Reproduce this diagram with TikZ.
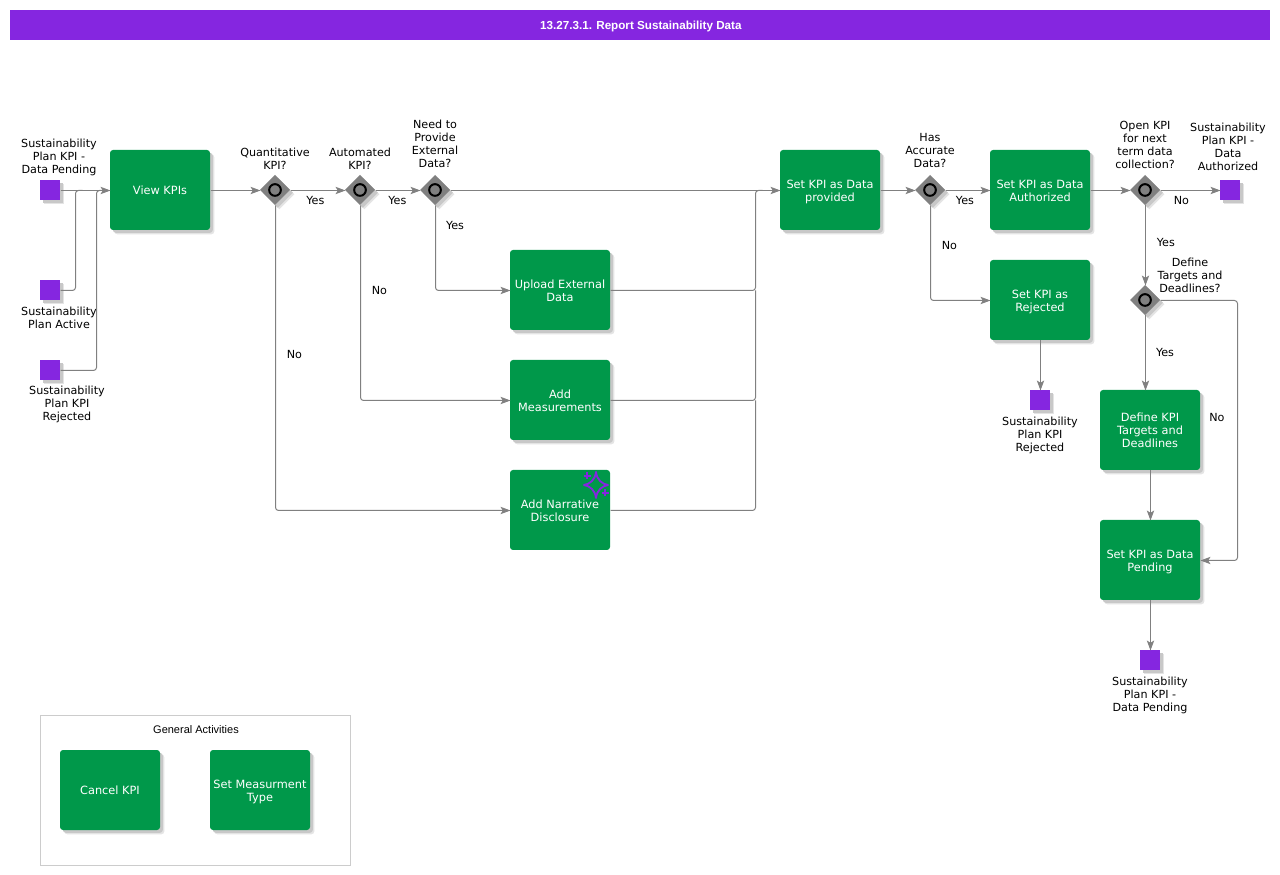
\documentclass[tikz,border=0pt]{standalone}
\usepackage{fontspec}
\setmainfont{DejaVu Sans}
\newfontfamily\arialfont{Liberation Sans}
\usetikzlibrary{positioning,shadows,shapes.geometric,arrows.meta}
\definecolor{actgreen}{HTML}{00984A}
\definecolor{evpurple}{HTML}{8526E0}
\definecolor{flowgray}{HTML}{808080}
\definecolor{framegray}{HTML}{CCCCCC}
\definecolor{shadowgray}{HTML}{C8C8C8}
\definecolor{shadowpale}{HTML}{E4E4E4}
\tikzset{>={Stealth[length=6pt,width=4.4pt,inset=1.4pt]}}
\tikzset{
  softshadow/.style={drop shadow={shadow xshift=2.6pt,shadow yshift=-2.6pt,fill=shadowpale,opacity=1},
    drop shadow={shadow xshift=1.7pt,shadow yshift=-1.7pt,fill=shadowgray,opacity=1}},
  plainact/.style={fill=actgreen,rounded corners=1.8pt,minimum width=60pt,minimum height=48pt,
    inner sep=0pt,outer sep=0pt,align=center,text=white,font=\fontsize{6.8}{7.8}\selectfont},
  act/.style={plainact,softshadow},
  lowtxt/.style={text height=14pt,text depth=0pt},
  ev/.style={fill=evpurple,minimum size=12pt,inner sep=0pt,outer sep=0pt,softshadow},
  gate/.style={diamond,fill=flowgray,minimum size=18pt,inner sep=0pt,outer sep=0pt,softshadow,
    path picture={\draw[black,line width=1.2pt] (path picture bounding box.center) circle (3.5pt);}},
  captxt/.style={align=center,inner sep=0pt,font=\fontsize{6.7}{7.8}\selectfont},
  lab/.style={inner sep=1.5pt,text=black,font=\fontsize{6.7}{7.8}\selectfont},
  flow/.style={flowgray,line width=.6pt,rounded corners=1.8pt,transform canvas={xshift=.3pt,yshift=-.3pt}}
}

\begin{document}
\begin{tikzpicture}[x=0.6pt,y=-0.6pt]
    \useasboundingbox (0,0) rectangle (1280,875);
    % title bar
    \node[fill=evpurple,minimum width=756pt,minimum height=18pt,inner sep=0pt,text=white,
      font=\arialfont\bfseries\fontsize{7}{8}\selectfont,text height=5.6pt,text depth=0pt] (title) at (640,25) {\hspace{1pt}13.27.3.1. Report Sustainability Data};

    % set up the events
    \node[ev] (pendA) at (50,190) {};
    \node[ev] (activeA) at (50,290) {};
    \node[ev] (rejA) at (50,370) {};
    \node[ev] (authZ) at (1230,190) {};
    \node[ev] (rejZ) at (1040,400) {};
    \node[ev] (pendZ) at (1150,660) {};

    % set up the activities
    \node[act] (view) at (160,190) {View KPIs};
    \node[act,lowtxt] (upload) at (560,290) {Upload External\\Data};
    \node[act,lowtxt,below=18pt of upload] (measure) {Add\\Measurements};
    \node[plainact,lowtxt,below=18pt of measure] (narr) {Add Narrative\\Disclosure};
    \node[act,lowtxt] (given) at (830,190) {Set KPI as Data\\provided};
    \node[act,lowtxt] (auth) at (1040,190) {Set KPI as Data\\Authorized};
    \node[act,lowtxt] (rej) at (1040,300) {Set KPI as\\Rejected};
    \node[act] (targets) at (1150,430) {Define KPI\\Targets and\\Deadlines};
    \node[act,lowtxt,below=30pt of targets] (pend) {Set KPI as Data\\Pending};

    % set up the gateways
    \node[gate] (gQuant) at (275,190) {};
    \node[gate] (gAuto) at (360,190) {};
    \node[gate] (gExt) at (435,190) {};
    \node[gate] (gAcc) at (930,190) {};
    \node[gate] (gOpen) at (1145,190) {};
    \node[gate] (gDef) at (1145,300) {};

    % junctions where the lines meet
    \coordinate (jActive) at (75,190);
    \coordinate (jActiveEnd) at (82,190);
    \coordinate (jRej) at (96,190);
    \coordinate (jRejEnd) at (103,190);
    \coordinate (jMerge) at (755,190);
    \coordinate (jMergeEnd) at (762,190);
    \coordinate (jNo) at (1237,300);

    % captions
    \node[captxt,above=2.4pt of pendA,xshift=5.4pt] (cPendA) {Sustainability\\Plan KPI -\\Data Pending};
    \node[captxt,below=3.8pt of activeA,xshift=5.4pt] (cActiveA) {Sustainability\\Plan Active};
    \node[captxt,below=3.5pt of rejA,xshift=10.2pt] (cRejA) {Sustainability\\Plan KPI\\Rejected};
    \node[captxt,above=3pt of gQuant] (cQuant) {Quantitative\\KPI?};
    \node[captxt,above=3pt of gAuto] (cAuto) {Automated\\KPI?};
    \node[captxt,above=4.2pt of gExt] (cExt) {Need to\\Provide\\External\\Data?};
    \node[captxt,above=4.2pt of gAcc] (cAcc) {Has\\Accurate\\Data?};
    \node[captxt,above=3.8pt of gOpen] (cOpen) {Open KPI\\for next\\term data\\collection?};
    \node[captxt,above=5.7pt of authZ,xshift=-1.2pt] (cAuth) {Sustainability\\Plan KPI -\\Data\\Authorized};
    \node[captxt,above=-4.8pt of gDef,xshift=27pt] (cDef) {Define\\Targets and\\Deadlines?};
    \node[captxt,below=4.1pt of rejZ] (cRejZ) {Sustainability\\Plan KPI\\Rejected};
    \node[captxt,below=4.1pt of pendZ] (cPendZ) {Sustainability\\Plan KPI -\\Data Pending};

    % draw arrows and text between them
    \draw[flow,->] (pendA)--(view);
    \draw[flow] (activeA)--(jActive |- activeA)--(jActive)--(jActiveEnd);
    \draw[flow] (rejA)--(jRej |- rejA)--(jRej)--(jRejEnd);
    \draw[flow,->] (view)--(gQuant);
    \draw[flow,->] (gQuant)--(gAuto) node [midway,below=1.8pt,lab,xshift=-1.6pt] {Yes};
    \draw[flow,->] (gAuto)--(gExt) node [midway,below=1.8pt,lab,xshift=-.4pt] {Yes};
    \draw[flow,->] (gExt)--(given);
    \draw[flow,->] (gExt)--(gExt |- upload) node [pos=.24,right,lab,xshift=4.5pt] {Yes} --(upload);
    \draw[flow,->] (gAuto)--(gAuto |- measure) node [pos=.435,right,lab,xshift=5pt] {No} --(measure);
    \draw[flow,->] (gQuant)--(gQuant |- narr) node [pos=.49,right,lab,xshift=5pt] {No} --(narr);
    \draw[flow] (upload)--(jMerge |- upload)--(jMerge)--(jMergeEnd);
    \draw[flow] (measure)--(jMerge |- measure)--(jMerge |- upload);
    \draw[flow] (narr)--(jMerge |- narr)--(jMerge |- measure);
    \draw[flow,->] (given)--(gAcc);
    \draw[flow,->] (gAcc)--(auth) node [midway,below=1.8pt,lab,xshift=-1.8pt] {Yes};
    \draw[flow,->] (gAcc)--(gAcc |- rej) node [pos=.42,right,lab,xshift=5pt] {No} --(rej);
    \draw[flow,->] (rej)--(rejZ);
    \draw[flow,->] (auth)--(gOpen);
    \draw[flow,->] (gOpen)--(authZ) node [midway,below=1.8pt,lab,xshift=-5.5pt] {No};
    \draw[flow,->] (gOpen)--(gDef) node [pos=.46,right,lab,xshift=5pt] {Yes};
    \draw[flow,->] (gDef)--(gDef |- targets.north) node [pos=.49,right,lab,xshift=4.5pt] {Yes};
    \draw[flow,->] (gDef)--(jNo)--(jNo |- pend) node [pos=.45,left,lab,xshift=-6pt] {No} --(pend);
    \draw[flow,->] (targets)--(pend);
    \draw[flow,->] (pend)--(pendZ);

    % spark icon on the narrative box
    \draw[evpurple,line width=1.1pt,line join=round] (596,472) .. controls (597,480) and (602,484) .. (608,485)
      .. controls (602,486) and (597,490) .. (596,498)
      .. controls (595,490) and (590,486) .. (584,485)
      .. controls (590,484) and (595,480) .. (596,472) -- cycle;
    \draw[evpurple,line width=1.1pt] (583.5,476)--(590.5,476) (587,472.5)--(587,479.5)
      (601.5,493)--(608.5,493) (605,489.5)--(605,496.5);

    % general activities frame
    \node[draw=framegray,line width=.6pt,minimum width=186pt,minimum height=90pt,inner sep=0pt,outer sep=0pt] (frame) at (195.5,790.5) {};
    \node[font=\arialfont\fontsize{6.6}{8}\selectfont,inner sep=0pt] (frameT) at (196,729.5) {General Activities};
    \node[act] (cancel) at (110,790) {Cancel KPI};
    \node[act,lowtxt,right=30pt of cancel] (mtype) {Set Measurment\\Type};
\end{tikzpicture}
\end{document}
